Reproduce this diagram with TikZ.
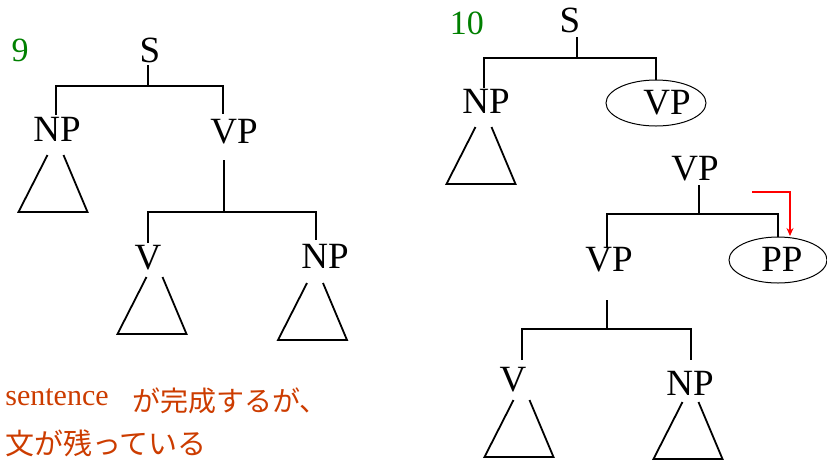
\documentclass[tikz,border=0pt]{standalone}
\usepackage{fontspec}
\setmainfont{Liberation Serif}
\newfontfamily\jafont{Noto Sans CJK JP}
\usetikzlibrary{arrows.meta, shapes.geometric}
\definecolor{notered}{RGB}{204,60,0}
\definecolor{stepgreen}{RGB}{0,128,0}

\begin{document}
\begin{tikzpicture}[
  >={Stealth[length=4pt, width=3.5pt]}, x=0.5pt, y=-0.5pt,
  lbl/.style={inner sep=1pt, font=\fontsize{18.5}{20}\selectfont},
  num/.style={inner sep=0pt, text=stepgreen, font=\fontsize{17}{19}\selectfont},
  oval/.style={ellipse, draw, line width=0.5pt, minimum width=50pt,
               minimum height=23pt, inner sep=0pt},
  tline/.style={line width=0.9pt, black},
  move/.style={->, line width=0.8pt, red},
  note/.style={inner sep=0pt, text=notered},
  subtree/.pic={\draw[tline] (-8,0) -- (-37,57) -- (32,57) -- (8,0);}
]
\useasboundingbox (0,0) rectangle (827,463);

\node[num] (n9) at (20,50) {9};
\node[num] (n10) at (467,23) {10};

% tree 9
\node[lbl] (S9) at (150,50) {S};
\node[lbl] (NP9) at (57,129) {NP};
\node[lbl] (VP9) at (234,132) {VP};
\node[lbl] (V9) at (148,258) {V};
\node[lbl] (NPo9) at (325,256) {NP};
\coordinate (bS9) at (148,65);   \coordinate (jS9) at (148,86);
\coordinate (tNP9) at (56,115);  \coordinate (tVP9) at (223,114);
\coordinate (bVP9) at (224,160); \coordinate (jVP9) at (224,212);
\coordinate (tV9) at (148,243);  \coordinate (tNPo9) at (316,240);
\draw[tline] (bS9) -- (jS9);
\draw[tline] (tNP9) |- (jS9) -| (tVP9);
\draw[tline] (bVP9) -- (jVP9);
\draw[tline] (tV9) |- (jVP9) -| (tNPo9);

% tree 10
\node[lbl] (S10) at (570,20) {S};
\node[lbl] (NP10) at (486,101) {NP};
\node[oval] (VP10) at (656,103) {};
\node[lbl] (VP10l) at (667,103) {VP};
\coordinate (bS10) at (577,37);  \coordinate (jS10) at (577,58);
\coordinate (tNP10) at (484,88);
\draw[tline] (bS10) -- (jS10);
\draw[tline] (tNP10) |- (jS10) -| (VP10.north);

% VP -> VP PP
\node[lbl] (VPm) at (695,169) {VP};
\node[lbl] (VPl) at (609,260) {VP};
\node[oval, minimum width=49pt] (PP) at (778,260) {};
\node[lbl] (PPl) at (782,259) {PP};
\node[lbl] (Vl) at (513,380) {V};
\node[lbl] (NPl) at (690,383) {NP};
\coordinate (bVPm) at (699,185); \coordinate (jVPm) at (699,214);
\coordinate (tVPl) at (607,247); \coordinate (bVPl) at (607,300);
\coordinate (jVPl) at (607,329);
\coordinate (tVl) at (522,360);  \coordinate (tNPl) at (691,360);
\draw[tline] (bVPm) -- (jVPm);
\draw[tline] (tVPl) |- (jVPm) -| (PP.north);
\draw[tline] (bVPl) -- (jVPl);
\draw[tline] (tVl) |- (jVPl) -| (tNPl);

% red attach arrow
\coordinate (mvS) at (752,192); \coordinate (mvE) at (790,236);
\draw[move] (mvS) -| (mvE);

% triangles
\foreach \x/\y in {55.5/155, 154.5/277, 315/283, 483.5/127, 521.5/400, 690.5/402}
  \pic at (\x,\y) {subtree};

% comment
\node[note, anchor=base west, font=\fontsize{15}{17}\selectfont] (snt) at (5,405) {sentence};
\node[note, anchor=west, font=\jafont\fontsize{14}{16}\selectfont] (ja1) at (132,401) {が完成するが、};
\node[note, anchor=west, font=\jafont\fontsize{14.5}{16}\selectfont] (ja2) at (5,443) {文が残っている};

\end{tikzpicture}
\end{document}
